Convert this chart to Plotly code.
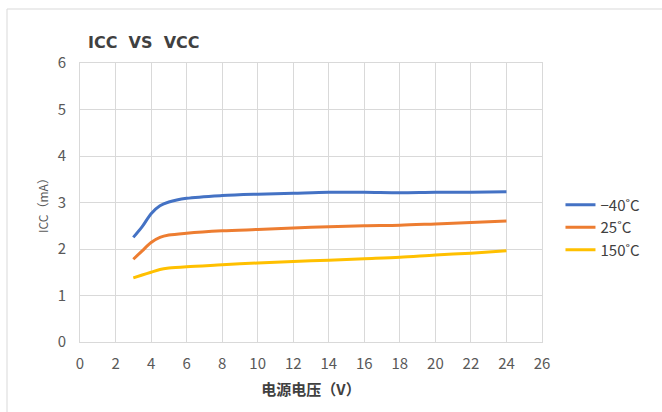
import plotly.graph_objects as go

vcc = [3, 3.5, 4, 4.5, 5, 6, 8, 10, 12, 14, 16, 18, 20, 22, 24]
icc_m40 = [2.25, 2.48, 2.76, 2.93, 3.01, 3.09, 3.15, 3.18, 3.20, 3.22, 3.22, 3.21, 3.22, 3.22, 3.23]
icc_25 = [1.78, 1.96, 2.14, 2.25, 2.30, 2.34, 2.39, 2.42, 2.45, 2.48, 2.50, 2.51, 2.54, 2.57, 2.60]
icc_150 = [1.38, 1.44, 1.50, 1.56, 1.59, 1.62, 1.66, 1.70, 1.73, 1.76, 1.79, 1.82, 1.87, 1.91, 1.96]
names = ["\u221240\u02daC", "25\u02daC", "150\u02daC"]
colors = ["#4472C4", "#ED7D31", "#FFC000"]

xticks = list(range(0, 27, 2))
yticks = list(range(0, 7))

font_main = "Noto Sans CJK SC, Noto Sans, sans-serif"

fig = go.Figure()
for ys, n, c in zip([icc_m40, icc_25, icc_150], names, colors):
    fig.add_trace(go.Scatter(x=vcc, y=ys, name=n, mode="lines",
                             line=dict(color=c, width=3, shape="spline", smoothing=0.9)))

axis_common = dict(showgrid=True, gridcolor="#D9D9D9", gridwidth=1,
                   zeroline=False, showline=True, linecolor="#D9D9D9", mirror=True,
                   ticks="outside", tickcolor="rgba(0,0,0,0)", automargin=False,
                   tickfont=dict(size=15, color="#595959", family=font_main))

fig.update_xaxes(range=[0, 26], tickvals=xticks, ticklen=8,
                 title=dict(text="<b>电源电压（V）</b>", font=dict(size=15, color="#404040", family=font_main), standoff=12),
                 **axis_common)
fig.update_yaxes(range=[0, 6], tickvals=yticks, ticklen=10,
                 title=dict(text="ICC（mA）", font=dict(size=12, color="#595959", family=font_main), standoff=6),
                 **axis_common)

fig.update_layout(
    width=662, height=412,
    margin=dict(l=80, r=120, t=63, b=70),
    paper_bgcolor="white", plot_bgcolor="white",
    title=dict(text="<b>ICC&nbsp;&nbsp;VS&nbsp;&nbsp;VCC</b>", x=88/662, xanchor="left", y=1-42/412, yanchor="middle",
               font=dict(size=16, color="#404040", family="DejaVu Sans, sans-serif")),
    legend=dict(x=1.04, xanchor="left", y=0.41, yanchor="middle",
                font=dict(size=15, color="#404040", family=font_main),
                tracegroupgap=0, itemwidth=30, bgcolor="rgba(0,0,0,0)"),
    shapes=[dict(type="rect", xref="paper", yref="paper", x0=(7-80)/462, x1=1.4,
                 y0=-0.4, y1=1+(63-9)/279, line=dict(color="#D9D9D9", width=1),
                 fillcolor="rgba(0,0,0,0)", layer="below")],
)

fig.write_html("out.html", config={"displayModeBar": False},
               post_script="document.body.style.margin='0px';")
